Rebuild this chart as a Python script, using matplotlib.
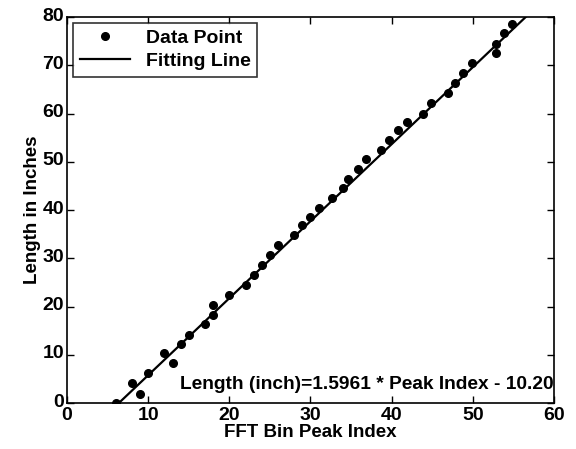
import matplotlib
matplotlib.use('Agg')
import matplotlib.pyplot as plt
import matplotlib.transforms as mtransforms
import numpy as np

# measured points (FFT bin peak index, length in inches)
peak_index = [6, 8, 9, 10, 12, 13, 14, 15, 17, 18, 18, 20, 22, 23, 24, 25, 26,
              28, 29, 30, 31, 32.7, 34, 34.6, 35.8, 36.8, 38.7, 39.7, 40.8, 41.9,
              43.8, 44.8, 46.9, 47.8, 48.8, 49.9, 52.9, 52.9, 53.8, 54.8]
length_inch = [0, 4.1, 1.9, 6.3, 10.3, 8.2, 12.2, 14.2, 16.4, 18.3, 20.4, 22.4,
               24.5, 26.5, 28.6, 30.7, 32.7, 34.9, 36.9, 38.6, 40.4, 42.5, 44.5,
               46.5, 48.4, 50.5, 52.4, 54.5, 56.6, 58.3, 60.0, 62.2, 64.3, 66.4,
               68.3, 70.4, 72.5, 74.5, 76.6, 78.5]

slope = 1.5961
intercept = -10.20

plt.rcParams['font.family'] = ['Liberation Sans', 'DejaVu Sans']
plt.rcParams['font.weight'] = 'bold'

fig = plt.figure(figsize=(5.76, 4.49), dpi=100)
ax = fig.add_axes([0.1163, 0.1024, 0.8455, 0.8597])

ax.plot(peak_index, length_inch, 'o', color='black', markersize=5.5, label='Data Point')
x_fit = np.linspace(-intercept / slope, 60, 200)
ax.plot(x_fit, slope * x_fit + intercept, '-', color='black', linewidth=1.6, label='Fitting Line')

ax.set_xlim(0, 60)
ax.set_ylim(0, 80)
ax.set_xticks(range(0, 61, 10))
ax.set_yticks(range(0, 81, 10))
ax.tick_params(direction='in', top=True, right=True, length=5, width=1,
               labelsize=14)
ax.tick_params(axis='x', pad=3)
ax.tick_params(axis='y', pad=2)
for s in ax.spines.values():
    s.set_linewidth(1.2)

# y tick labels sit a little above their ticks, as in the original
shift_up = mtransforms.ScaledTranslation(0, 3 / 100, fig.dpi_scale_trans)
for lbl in ax.get_yticklabels():
    lbl.set_transform(lbl.get_transform() + shift_up)

ax.set_xlabel('FFT Bin Peak Index', fontsize=13.5, fontweight='bold', labelpad=0)
ax.set_ylabel('Length in Inches', fontsize=13.5, fontweight='bold', labelpad=1)

ax.text(59.9, 3.8, 'Length (inch)=1.5961 * Peak Index - 10.20', ha='right', va='center',
        fontsize=13.8, fontweight='bold')

leg = ax.legend(loc='upper left', fontsize=14, frameon=True, fancybox=False,
                edgecolor='black', borderaxespad=0.3, handlelength=2.6,
                handletextpad=0.8, borderpad=0.35, labelspacing=0.25)
leg.get_frame().set_linewidth(1.2)

fig.savefig('out.png', dpi=100)
